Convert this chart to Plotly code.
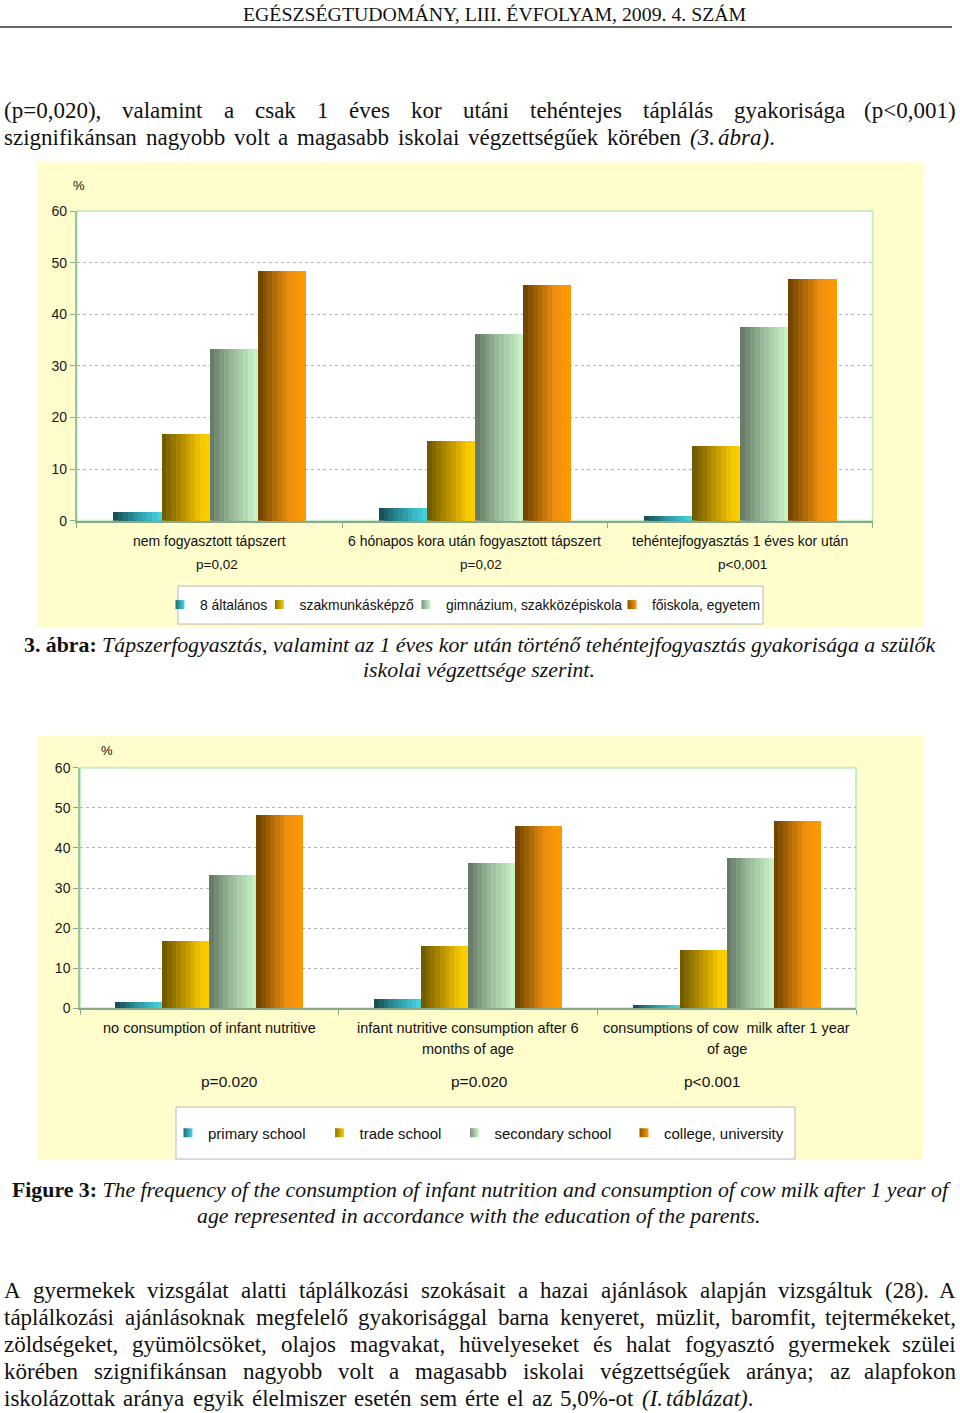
import re
import unicodedata
import plotly.graph_objects as go

# ---------------- data ----------------
cat_index = [0, 1, 2]
categories_hu = ["nem fogyasztott tápszert",
                 "6 hónapos kora után fogyasztott tápszert",
                 "tehéntejfogyasztás 1 éves kor után"]
pvalues_hu = ["p=0,02", "p=0,02", "p<0,001"]
categories_en = [["no consumption of infant nutritive"],
                 ["infant nutritive consumption after 6", "months of age"],
                 ["consumptions of cow  milk after 1 year", "of age"]]
pvalues_en = ["p=0.020", "p=0.020", "p<0.001"]
series_hu = ["8 általános", "szakmunkásképző", "gimnázium, szakközépiskola", "főiskola, egyetem"]
series_en = ["primary school", "trade school", "secondary school", "college, university"]
primary = [1.6, 2.4, 1.0]
trade = [16.8, 15.5, 14.5]
secondary = [33.2, 36.2, 37.5]
college = [48.3, 45.6, 46.9]
y_tickvals = [0, 10, 20, 30, 40, 50, 60]

header_text = "EGÉSZSÉGTUDOMÁNY, LIII. ÉVFOLYAM, 2009. 4. SZÁM"
para1_lines = [
    "(p=0,020), valamint a csak 1 éves kor utáni tehéntejes táplálás gyakorisága (p<0,001)",
    "szignifikánsan nagyobb volt a magasabb iskolai végzettségűek körében <i>(3. ábra)</i>.",
]
caption1_lines = [
    "<b>3. ábra:</b> <i>Tápszerfogyasztás, valamint az 1 éves kor után történő tehéntejfogyasztás gyakorisága a szülők</i>",
    "<i>iskolai végzettsége szerint.</i>",
]
caption2_lines = [
    "<b>Figure 3:</b> <i>The frequency of the consumption of infant nutrition and consumption of cow milk after 1 year of</i>",
    "<i>age represented in accordance with the education of the parents.</i>",
]
para2_lines = [
    "A gyermekek vizsgálat alatti táplálkozási szokásait a hazai ajánlások alapján vizsgáltuk (28). A",
    "táplálkozási ajánlásoknak megfelelő gyakorisággal barna kenyeret, müzlit, baromfit, tejtermékeket,",
    "zöldségeket, gyümölcsöket, olajos magvakat, hüvelyeseket és halat fogyasztó gyermekek szülei",
    "körében szignifikánsan nagyobb volt a magasabb iskolai végzettségűek aránya; az alapfokon",
    "iskolázottak aránya egyik élelmiszer esetén sem érte el az 5,0%-ot <i>(I. táblázat)</i>.",
]

# ---------------- page geometry ----------------
W = 960
VIEW_H = 1413
K = 1429 / VIEW_H          # the photographed page is slightly squeezed vertically
TOPPAD = 8                 # and starts a few pixels below the top
HF = 1421                  # figure height so it fills the photograph


def Y(py):
    """paper y for a vertical pixel position measured on the page"""
    return 1 - (py * K - TOPPAD) / HF


def X(px):
    return px / W


# ---------------- styles ----------------
SERIF = "Liberation Serif"
SANS = "Liberation Sans"
PANEL = "#fffdcc"
GRADIENTS = [
    [(0, "#18484f"), (0.45, "#2a939d"), (1, "#48d6e6")],
    [(0, "#6a5500"), (0.45, "#b89000"), (0.8, "#f2c400"), (1, "#ffd200")],
    [(0, "#627562"), (0.45, "#98b898"), (1, "#cbf7cb")],
    [(0, "#6a3e00"), (0.35, "#b06c08"), (0.65, "#ee8e10"), (1, "#ff9c00")],
]
LEG_DARK = ["#1f6a72", "#8a7000", "#7a907a", "#8a5200"]
LEG_LIGHT = ["#48d6e6", "#ffd200", "#d0f8d0", "#ff9c00"]
NSTRIPE = 10
BW = 0.1814
GROUP = 4 * BW


def _hex(c):
    c = c.lstrip("#")
    return [int(c[i:i + 2], 16) for i in (0, 2, 4)]


def grad_color(stops, t):
    for (t0, c0), (t1, c1) in zip(stops, stops[1:]):
        if t <= t1:
            f = (t - t0) / (t1 - t0) if t1 > t0 else 0
            a, b = _hex(c0), _hex(c1)
            return "rgb(%d,%d,%d)" % tuple(round(a[i] + (b[i] - a[i]) * f) for i in range(3))
    return stops[-1][1]


# Times / Liberation Serif advance widths (1/1000 em)
_TW = {}
for chars, w in [("bdghknopquvxy0123456789", 500), ("acez", 444), ("fr()-I", 333),
                 ("ijlt:;", 278), (" ,.", 250), ("sJ", 389), ("wADGHKNOQUVXY", 722),
                 ("m", 778), ("=<>+", 564), ("%", 833), ("ELTZ", 611), ("FPS", 556),
                 ("BCR", 667), ("M", 889), ("W", 944)]:
    for ch in chars:
        _TW[ch] = w


def text_width(s, size, style=""):
    tot = 0
    for ch in s:
        base = unicodedata.normalize("NFD", ch)[0]
        tot += _TW.get(base, 500)
    f = 1.07 if "b" in style else 1.0
    return tot * size / 1000.0 * f


def esc(s):
    return s.replace("<", "&lt;")


def tokenize(line):
    words, state = [], set()
    for raw in line.split(" "):
        styled, plain, st = "", "", ""
        for p in re.split(r"(</?[ib]>)", raw):
            if p in ("<i>", "<b>"):
                state.add(p[1])
                continue
            if p in ("</i>", "</b>"):
                state.discard(p[2])
                continue
            if p:
                piece = esc(p)
                if "b" in state:
                    piece = "<b>" + piece + "</b>"
                if "i" in state:
                    piece = "<i>" + piece + "</i>"
                styled += piece
                plain += p
                st = "".join(sorted(state))
        words.append((styled, plain, st))
    return words


fig = go.Figure()


def add_text_line(line, left, right, yc, size):
    """justified line: first word at left edge, last word ends at right edge"""
    words = tokenize(line)
    widths = [text_width(p, size, st) for _, p, st in words]
    n = len(words)
    gap = (right - left - sum(widths)) / (n - 1) if n > 1 else 0
    x = left
    for j, (styled, _, _) in enumerate(words):
        if j == n - 1 and n > 1:
            xa, xv = "right", right
        else:
            xa, xv = "left", x
        fig.add_annotation(x=X(xv), y=Y(yc), xref="paper", yref="paper",
                           xanchor=xa, yanchor="middle", text=styled, showarrow=False,
                           borderpad=0, font=dict(family=SERIF, size=size, color="#111"))
        x += widths[j] + gap


def add_centered(text, xc, yc, size):
    fig.add_annotation(x=X(xc), y=Y(yc), xref="paper", yref="paper", xanchor="center",
                       yanchor="middle", text=text, showarrow=False, borderpad=0,
                       font=dict(family=SERIF, size=size, color="#111"))


# ---------------- page text ----------------
add_centered(header_text, 495, 14, 19.8)
fig.add_shape(type="line", xref="paper", yref="paper", x0=0, x1=X(952),
              y0=Y(27), y1=Y(27), line=dict(color="#333", width=1.5))

BODY = 23
CAP = 21.8
add_text_line(para1_lines[0], 3, 957, 110, BODY)
add_text_line(para1_lines[1], 3, 776, 137, BODY)
add_centered(caption1_lines[0], 479.5, 645, CAP)
add_centered(caption1_lines[1], 478.5, 670, CAP)
add_centered(caption2_lines[0], 481, 1190, CAP)
add_centered(caption2_lines[1], 478.5, 1216, CAP)
for k, (ln, yc) in enumerate(zip(para2_lines, [1290, 1317, 1344, 1371, 1398])):
    add_text_line(ln, 3, 957 if k < 4 else 755, yc, BODY)

# ---------------- chart panels ----------------
panels = [(37, 162, 923, 627), (37, 736, 923, 1160)]
for x0, y0, x1, y1 in panels:
    fig.add_shape(type="rect", xref="paper", yref="paper", layer="below",
                  x0=X(x0), x1=X(x1), y0=Y(y1), y1=Y(y0),
                  fillcolor=PANEL, line=dict(width=0))
legend_boxes = [(178, 586, 763, 624), (176, 1107, 795, 1159)]
for x0, y0, x1, y1 in legend_boxes:
    fig.add_shape(type="rect", xref="paper", yref="paper", layer="below",
                  x0=X(x0), x1=X(x1), y0=Y(y1), y1=Y(y0),
                  fillcolor="white", line=dict(color="#b9b9b9", width=1))

values = [primary, trade, secondary, college]
charts = [
    dict(xa="x", ya="y", names=series_hu, legends=["legend", "legend2", "legend3", "legend4"]),
    dict(xa="x2", ya="y2", names=series_en, legends=["legend5", "legend6", "legend7", "legend8"]),
]
for ch in charts:
    for i, vals in enumerate(values):
        for k in range(NSTRIPE):
            t = (k + 0.5) / NSTRIPE
            fig.add_trace(go.Bar(
                x=cat_index, y=vals, xaxis=ch["xa"], yaxis=ch["ya"],
                offset=-GROUP / 2 + i * BW + k * BW / NSTRIPE,
                width=BW * (NSTRIPE - k) / NSTRIPE,
                marker=dict(color=grad_color(GRADIENTS[i], t), line=dict(width=0)),
                showlegend=False, hoverinfo="skip"))
        fig.add_trace(go.Scatter(
            x=[None], y=[None], xaxis=ch["xa"], yaxis=ch["ya"], mode="markers",
            name=ch["names"][i], legend=ch["legends"][i],
            marker=dict(symbol="square", size=9, color=LEG_DARK[i],
                        gradient=dict(type="horizontal", color=LEG_LIGHT[i])),
            showlegend=True))

# plot-area white rects with light-green border
for xa, ya in [("x", "y"), ("x2", "y2")]:
    fig.add_shape(type="rect", xref=xa + " domain", yref=ya + " domain", layer="below",
                  x0=0, x1=1, y0=0, y1=1, fillcolor="white",
                  line=dict(color="#c6efc6", width=2))

axis_common_y = dict(range=[0, 60], tickvals=y_tickvals, showgrid=True, gridcolor="#b4b4b4",
                     griddash="dot", gridwidth=1, zeroline=False, showline=True,
                     linecolor="#9cc49c", linewidth=1.5, ticks="outside", ticklen=5,
                     tickcolor="#8aa88a", tickfont=dict(family=SANS, size=14, color="#1a1a1a"),
                     fixedrange=True)
axis_common_x = dict(range=[-0.5, 2.5], tickvals=[-0.5, 0.5, 1.5, 2.5], showticklabels=False,
                     ticks="outside", ticklen=5, tickcolor="#8aa88a", showgrid=False,
                     zeroline=False, showline=True, linecolor="#8aa88a", linewidth=1.5,
                     fixedrange=True)

fig.update_layout(
    width=W, height=HF, autosize=False,
    margin=dict(l=0, r=0, t=0, b=0),
    paper_bgcolor="white", plot_bgcolor="white",
    barmode="overlay", bargap=0,
    xaxis=dict(domain=[X(76.7), X(872.7)], anchor="y", **axis_common_x),
    yaxis=dict(domain=[Y(520.7), Y(211)], anchor="x", **axis_common_y),
    xaxis2=dict(domain=[X(80), X(856)], anchor="y2", **axis_common_x),
    yaxis2=dict(domain=[Y(1008.3), Y(767.7)], anchor="x2", **axis_common_y),
)

# legends: one per entry so each sits where the original places it
leg_pos = [(200, 605), (299.5, 605), (446, 605), (652, 605),
           (208, 1133), (359.6, 1133), (494.5, 1133), (664, 1133)]
leg_names = ["legend"] + ["legend%d" % n for n in range(2, 9)]
for name, (xs, yc) in zip(leg_names, leg_pos):
    fig.update_layout(**{name: dict(
        x=X(xs - 40), y=Y(yc), xanchor="left", yanchor="middle",
        orientation="h", bgcolor="rgba(0,0,0,0)", borderwidth=0,
        font=dict(family=SANS, size=13.9 if yc < 700 else 15, color="#111"))})

# "%" labels
for xp, yp in [(79, 185), (107, 750)]:
    fig.add_annotation(x=X(xp), y=Y(yp), xref="paper", yref="paper", text="%",
                       xanchor="center", yanchor="middle", showarrow=False,
                       font=dict(family=SANS, size=13, color="#111"))

# category & p-value labels, chart 1
for i in cat_index:
    fig.add_annotation(x=i, xref="x", y=Y(541), yref="paper", text=categories_hu[i],
                       showarrow=False, xanchor="center", yanchor="middle",
                       font=dict(family=SANS, size=14, color="#111"))
    fig.add_annotation(x=i, xref="x", y=Y(564), yref="paper", text=esc(pvalues_hu[i]),
                       showarrow=False, xanchor="center", yanchor="middle", xshift=[8, 6, 2][i],
                       font=dict(family=SANS, size=13.5, color="#111"))
# chart 2
for i in cat_index:
    for j, ln in enumerate(categories_en[i]):
        fig.add_annotation(x=i, xref="x2", y=Y(1028 + 21 * j), yref="paper", text=ln,
                           showarrow=False, xanchor="center", yanchor="middle",
                           font=dict(family=SANS, size=14.5, color="#111"))
    fig.add_annotation(x=i, xref="x2", y=Y(1081), yref="paper", text=esc(pvalues_en[i]),
                       showarrow=False, xanchor="center", yanchor="middle",
                       xshift=[20, 11, -15][i],
                       font=dict(family=SANS, size=15.5, color="#111"))

PAGE_CSS = ("var s=document.createElement('style');"
            "s.textContent='html,body{margin:0 !important;padding:0 !important;"
            "overflow:hidden !important;}';"
            "document.head.appendChild(s);")
fig.write_html("out.html", config={"displayModeBar": False}, post_script=PAGE_CSS)
